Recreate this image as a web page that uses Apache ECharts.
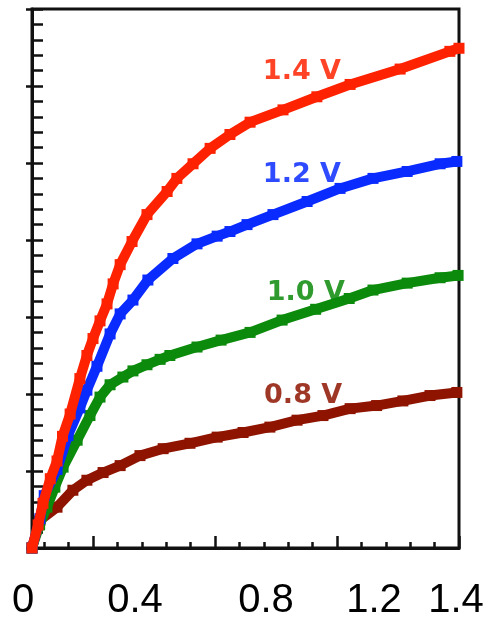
<!DOCTYPE html>
<html>
<head>
<meta charset="utf-8">
<script src="https://cdn.jsdelivr.net/npm/echarts@6/dist/echarts.min.js"></script>
<style>
  html, body { margin: 0; padding: 0; background: #fff; }
  #chart { width: 491px; height: 622px; }
</style>
</head>
<body>
<div id="chart"></div>
<script>
// gate voltages, one curve each
const curveNames = ['0.8 V', '1.0 V', '1.2 V', '1.4 V']
const curveColors = ['#8e1400', '#0b8a0b', '#0a2bff', '#ff2200']

// [Vd, Id] (Id in arbitrary units, 7 major divisions)
const curve08 = [[0, 0], [0.026, 0.36], [0.082, 0.53], [0.134, 0.75], [0.18, 0.88], [0.233, 0.98], [0.289, 1.07], [0.354, 1.2], [0.43, 1.29], [0.518, 1.36], [0.607, 1.44], [0.692, 1.5], [0.78, 1.57], [0.869, 1.66], [0.954, 1.72], [1.043, 1.81], [1.13, 1.85], [1.216, 1.91], [1.305, 1.98], [1.393, 2.02]]
const curve10 = [[0, 0], [0.025, 0.3], [0.049, 0.53], [0.075, 0.79], [0.102, 1.05], [0.148, 1.4], [0.19, 1.72], [0.223, 1.96], [0.256, 2.12], [0.298, 2.22], [0.331, 2.3], [0.377, 2.38], [0.42, 2.45], [0.452, 2.5], [0.541, 2.61], [0.62, 2.7], [0.715, 2.8], [0.82, 2.96], [0.93, 3.1], [1.04, 3.24], [1.118, 3.35], [1.23, 3.44], [1.338, 3.51], [1.397, 3.54]]
const curve12 = [[0, 0], [0.026, 0.38], [0.04, 0.68], [0.082, 1.02], [0.118, 1.46], [0.157, 1.82], [0.18, 2.05], [0.213, 2.36], [0.256, 2.78], [0.289, 3.04], [0.331, 3.22], [0.38, 3.48], [0.462, 3.76], [0.541, 3.95], [0.607, 4.05], [0.649, 4.11], [0.705, 4.2], [0.79, 4.33], [0.902, 4.5], [1.01, 4.67], [1.118, 4.8], [1.23, 4.89], [1.338, 4.99], [1.393, 5.02]]
const curve14 = [[0, 0], [0.02, 0.3], [0.036, 0.58], [0.06, 0.9], [0.082, 1.13], [0.1, 1.45], [0.125, 1.74], [0.157, 2.2], [0.18, 2.5], [0.2, 2.72], [0.223, 2.95], [0.246, 3.17], [0.266, 3.43], [0.289, 3.68], [0.328, 3.98], [0.377, 4.33], [0.443, 4.63], [0.475, 4.8], [0.528, 4.99], [0.584, 5.19], [0.649, 5.37], [0.715, 5.53], [0.823, 5.69], [0.934, 5.86], [1.043, 6.02], [1.207, 6.22], [1.37, 6.45], [1.4, 6.49]]
const curves = [curve08, curve10, curve12, curve14]

// where the curve names sit, in data units
const nameSpots = [[0.889, 1.98], [0.898, 3.31], [0.885, 4.84], [0.885, 6.18]]

// x axis tick labels and tick marks
const xLabels = [0, 0.4, 0.8, 1.2, 1.4]
const xMajorTicks = [0.2, 0.6, 1.0, 1.4]
const xMinorTicks = [0.04, 0.12, 0.28, 0.36, 0.44, 0.52, 0.68, 0.76, 0.84, 0.92, 1.08, 1.16, 1.24, 1.32]

// labels in the source sit a bit left of their ticks
const labelNudge = [9, 19, 10, 24, 3]
const rich = {}
labelNudge.forEach((n, i) => {
  rich['n' + i] = {
    fontSize: 40,
    fontFamily: 'Liberation Sans, Arial',
    color: '#000',
    padding: [0, 2 * n, 0, 0]
  }
})

const chart = echarts.init(document.getElementById('chart'))
chart.setOption({
  animation: false,
  backgroundColor: '#fff',
  grid: {
    left: 32,
    right: 32,
    top: 9,
    bottom: 74,
    show: true,
    borderColor: '#111',
    borderWidth: 3
  },
  xAxis: [
    {
      type: 'value',
      min: 0,
      max: 1.4,
      position: 'bottom',
      splitLine: { show: false },
      axisLine: { lineStyle: { color: '#111', width: 3 } },
      axisTick: {
        inside: true,
        length: 6,
        customValues: xMinorTicks,
        lineStyle: { color: '#111', width: 2.5 }
      },
      axisLabel: {
        customValues: xLabels,
        margin: 33,
        formatter: function (v) {
          const i = xLabels.indexOf(v)
          return '{n' + i + '|' + v + '}'
        },
        rich: rich
      }
    },
    {
      type: 'value',
      min: 0,
      max: 1.4,
      position: 'bottom',
      splitLine: { show: false },
      axisLine: { show: false },
      axisTick: {
        inside: true,
        length: 12,
        customValues: xMajorTicks,
        lineStyle: { color: '#111', width: 2.5 }
      },
      axisLabel: { show: false }
    }
  ],
  yAxis: [
    {
      type: 'value',
      min: 0,
      max: 7,
      interval: 1,
      splitLine: { show: false },
      axisLine: { show: true, lineStyle: { color: '#111', width: 3 } },
      axisTick: { inside: true, length: 11, lineStyle: { color: '#111', width: 2.5 } },
      minorTick: { show: true, splitNumber: 5, length: 11, lineStyle: { color: '#111', width: 2.5 } },
      axisLabel: { show: false }
    },
    {
      type: 'value',
      min: 0,
      max: 7,
      interval: 1,
      position: 'left',
      splitLine: { show: false },
      axisLine: { show: false },
      axisTick: { inside: false, length: 6, lineStyle: { color: '#111', width: 2.5 } },
      axisLabel: { show: false }
    }
  ],
  series: curves.map((c, i) => ({
    name: curveNames[i],
    type: 'line',
    data: c,
    clip: false,
    symbol: 'rect',
    symbolSize: 11,
    itemStyle: { color: curveColors[i] },
    lineStyle: { color: curveColors[i], width: 10 },
    z: 2 + i,
    markPoint: {
      symbol: 'rect',
      symbolSize: 0,
      data: [{ coord: nameSpots[i] }],
      label: {
        show: true,
        position: 'inside',
        formatter: curveNames[i],
        color: curveColors[i],
        opacity: 0.85,
        fontSize: 27,
        fontWeight: 'bold',
        fontFamily: 'DejaVu Sans'
      }
    }
  }))
})
</script>
</body>
</html>
